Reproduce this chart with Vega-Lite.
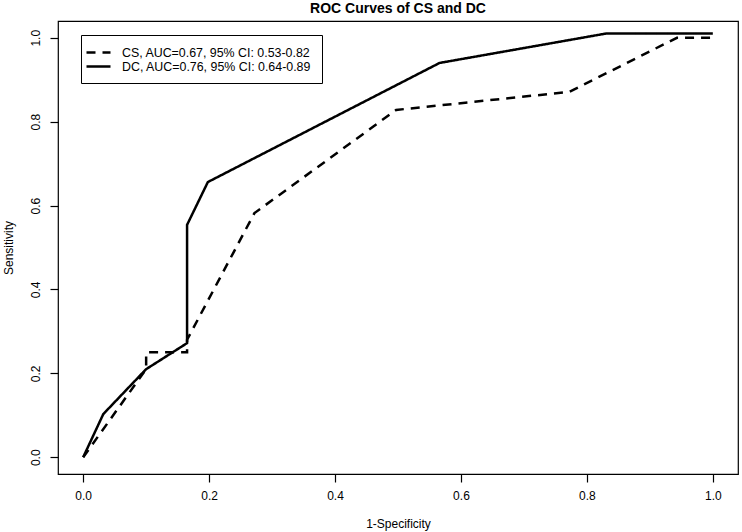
{
  "$schema": "https://vega.github.io/schema/vega-lite/v6.json",
  "width": 680,
  "height": 453,
  "autosize": {"type": "none"},
  "padding": {"left": 58, "top": 21, "right": 4, "bottom": 58},
  "background": "white",
  "title": {"text": "ROC Curves of CS and DC", "font": "Liberation Sans", "fontSize": 14, "fontWeight": "bold", "color": "black", "anchor": "middle", "offset": 5},
  "config": {
    "view": {"stroke": "black", "strokeWidth": 1.2},
    "font": "Liberation Sans"
  },
  "data": {"values": [
    {"s": "CS, AUC=0.67, 95% CI: 0.53-0.82", "i": 0, "x": 0, "y": 0},
    {"s": "CS, AUC=0.67, 95% CI: 0.53-0.82", "i": 1, "x": 0.1, "y": 0.21},
    {"s": "CS, AUC=0.67, 95% CI: 0.53-0.82", "i": 2, "x": 0.1, "y": 0.25},
    {"s": "CS, AUC=0.67, 95% CI: 0.53-0.82", "i": 3, "x": 0.165, "y": 0.25},
    {"s": "CS, AUC=0.67, 95% CI: 0.53-0.82", "i": 4, "x": 0.165, "y": 0.28},
    {"s": "CS, AUC=0.67, 95% CI: 0.53-0.82", "i": 5, "x": 0.272, "y": 0.582},
    {"s": "CS, AUC=0.67, 95% CI: 0.53-0.82", "i": 6, "x": 0.497, "y": 0.828},
    {"s": "CS, AUC=0.67, 95% CI: 0.53-0.82", "i": 7, "x": 0.772, "y": 0.871},
    {"s": "CS, AUC=0.67, 95% CI: 0.53-0.82", "i": 8, "x": 0.943, "y": 1.0},
    {"s": "CS, AUC=0.67, 95% CI: 0.53-0.82", "i": 9, "x": 1.0, "y": 1.0},
    {"s": "DC, AUC=0.76, 95% CI: 0.64-0.89", "i": 0, "x": 0, "y": 0},
    {"s": "DC, AUC=0.76, 95% CI: 0.64-0.89", "i": 1, "x": 0.032, "y": 0.103},
    {"s": "DC, AUC=0.76, 95% CI: 0.64-0.89", "i": 2, "x": 0.1, "y": 0.21},
    {"s": "DC, AUC=0.76, 95% CI: 0.64-0.89", "i": 3, "x": 0.165, "y": 0.272},
    {"s": "DC, AUC=0.76, 95% CI: 0.64-0.89", "i": 4, "x": 0.165, "y": 0.554},
    {"s": "DC, AUC=0.76, 95% CI: 0.64-0.89", "i": 5, "x": 0.198, "y": 0.656},
    {"s": "DC, AUC=0.76, 95% CI: 0.64-0.89", "i": 6, "x": 0.566, "y": 0.94},
    {"s": "DC, AUC=0.76, 95% CI: 0.64-0.89", "i": 7, "x": 0.83, "y": 1.01},
    {"s": "DC, AUC=0.76, 95% CI: 0.64-0.89", "i": 8, "x": 1.0, "y": 1.01}
  ]},
  "mark": {"type": "line", "color": "black", "strokeWidth": 2.5, "strokeCap": "butt", "strokeJoin": "miter"},
  "encoding": {
    "x": {"field": "x", "type": "quantitative",
      "scale": {"domain": [-0.04, 1.04], "nice": false, "zero": false},
      "axis": {"values": [0, 0.2, 0.4, 0.6, 0.8, 1.0], "format": ".1f", "grid": false, "domain": false,
        "tickColor": "black", "tickSize": 8, "tickWidth": 1.2, "labelColor": "black", "labelFontSize": 12,
        "labelPadding": 8, "title": "1-Specificity", "titleFontSize": 12, "titleFontWeight": "normal", "titleColor": "black", "titlePadding": 17}},
    "y": {"field": "y", "type": "quantitative",
      "scale": {"domain": [-0.04, 1.04], "nice": false, "zero": false},
      "axis": {"values": [0, 0.2, 0.4, 0.6, 0.8, 1.0], "format": ".1f", "grid": false, "domain": false,
        "tickColor": "black", "tickSize": 8, "tickWidth": 1.2, "labelColor": "black", "labelFontSize": 12,
        "labelAngle": -90, "labelAlign": "center", "labelBaseline": "bottom", "labelPadding": 8,
        "title": "Sensitivity", "titleFontSize": 12, "titleFontWeight": "normal", "titleColor": "black", "titlePadding": 14}},
    "strokeDash": {"field": "s", "type": "nominal",
      "scale": {"range": [[9, 7], [1, 0]]},
      "legend": {"title": null, "orient": "none", "legendX": 23, "legendY": 14,
        "symbolType": "M-2,0H2", "symbolSize": 144, "symbolStrokeColor": "black", "symbolStrokeWidth": 2.5,
        "labelFontSize": 12.4, "labelColor": "black", "labelOffset": 16, "labelLimit": 0, "rowPadding": -1.5,
        "strokeColor": "black", "padding": 10, "fillColor": "white"}},
    "order": {"field": "i", "type": "quantitative"}
  }
}
